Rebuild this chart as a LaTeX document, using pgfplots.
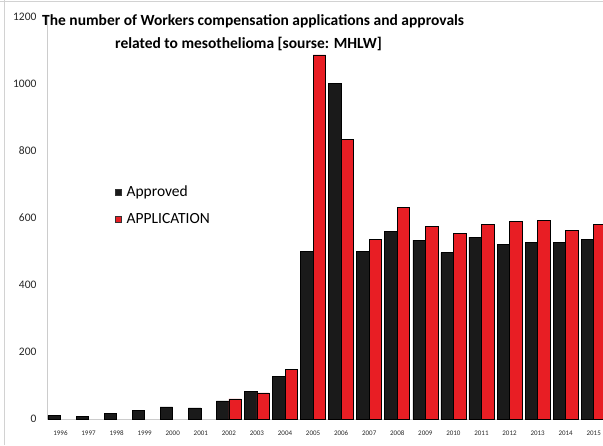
\documentclass[border=0pt]{standalone}
\usepackage{pgfplots}
\pgfplotsset{compat=1.18}
\usepackage{fontspec}
\setmainfont{Carlito}
\definecolor{barred}{RGB}{232,30,36}
\definecolor{barblack}{RGB}{26,26,26}

\begin{document}
\begin{tikzpicture}[x=1pt,y=1pt]
\path[use as bounding box] (0,0) rectangle (603,445);
\draw[gray!35, line width=1.2pt] (4.5,0) -- (4.5,445);
\draw[gray!35, line width=1pt] (0,443.5) -- (603,443.5);
\begin{axis}[
  at={(47pt,26pt)}, anchor=south west,
  scale only axis, width=556pt, height=402pt,
  xmin=-0.48, xmax=19.33, ymin=0, ymax=1200,
  ybar=0pt, bar width=12.5pt,
  axis x line=bottom, axis y line=left,
  axis line style={-, gray!40, line width=0.8pt},
  xtick={0,...,19},
  xticklabels={1996,1997,1998,1999,2000,2001,2002,2003,2004,2005,2006,2007,2008,2009,2010,2011,2012,2013,2014,2015},
  major tick length=0pt,
  ytick={0,200,...,1200},
  tick label style={text=black!85},
  yticklabel style={font=\fontsize{11.5}{11.5}\selectfont, xshift=-7pt},
  xticklabel style={font=\fontsize{7}{7}\selectfont, yshift=-8.5pt},
  /pgf/number format/assume math mode=true,
  /pgf/number format/1000 sep={},
  legend style={at={(0.122,0.585)}, anchor=north west, draw=none, fill=none,
    font=\fontsize{15.5}{15.5}\selectfont, row sep=11pt, inner sep=0pt,
    /tikz/every odd column/.style={column sep=3pt}},
  legend cell align=left,
]
\addplot[fill=barblack, draw=black, line width=0.6pt,
  legend image code/.code={\draw[fill=barblack, draw=black!80] (0pt,-3pt) rectangle (6pt,3pt);}]
  coordinates {
  (0,11) (1,8) (2,17) (3,25) (4,36) (5,33) (6,54) (7,82) (8,127) (9,501)
  (10,1002) (11,500) (12,561) (13,534) (14,497) (15,543) (16,521) (17,527) (18,528) (19,537)
};
\addplot[fill=barred, draw=black, line width=0.6pt,
  legend image code/.code={\draw[fill=barred, draw=black!80] (0pt,-3pt) rectangle (6pt,3pt);}]
  coordinates {
  (6,60) (7,78) (8,149) (9,1087) (10,835) (11,537) (12,631) (13,574) (14,554)
  (15,582) (16,591) (17,594) (18,564) (19,581)
};
\legend{Approved, APPLICATION}
\end{axis}
\node[anchor=west, inner sep=0pt, font=\bfseries\fontsize{15.5}{15.5}\selectfont] at (42,424)
  {The number of Workers compensation applications and approvals};
\node[anchor=west, inner sep=0pt, font=\bfseries\fontsize{15.5}{15.5}\selectfont] at (115,401)
  {related to mesothelioma [sourse: MHLW]};
\end{tikzpicture}
\end{document}
